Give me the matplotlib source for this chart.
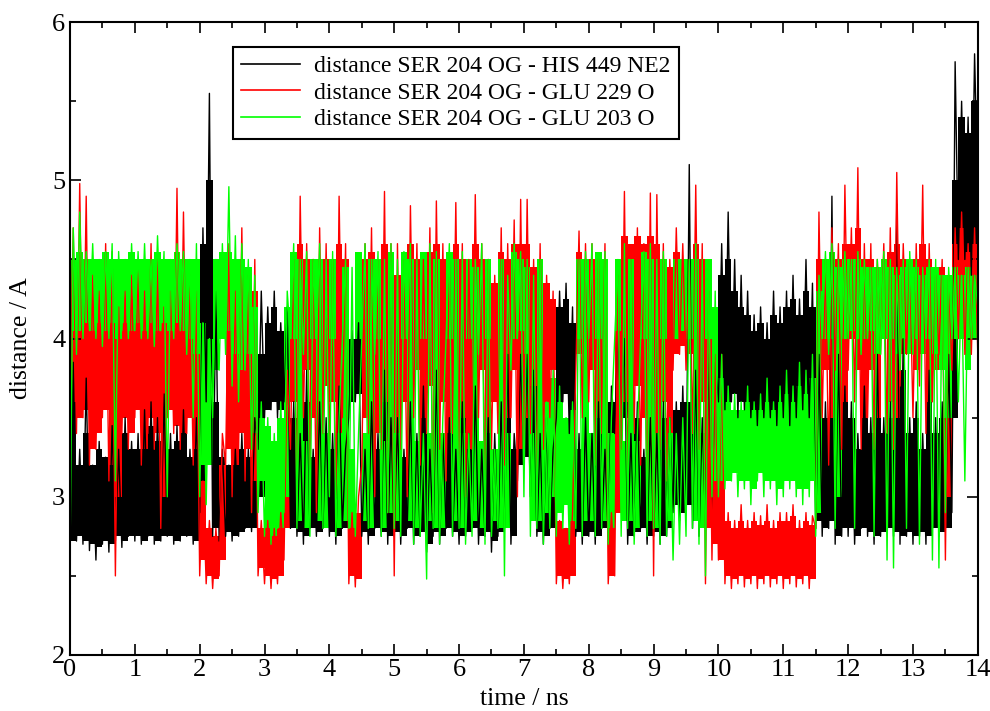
import numpy as np
import matplotlib
matplotlib.use('Agg')
import matplotlib.pyplot as plt
from matplotlib.ticker import MultipleLocator

# values.
# *_core : dense band (low, high) in each 0.1 ns window
# *_ext  : lowest / highest excursion in each 0.1 ns window, one value every 0.05 ns
bin_w = 0.1

his449_core = [
    2.72,3.6, 2.75,3.2, 2.72,3.4, 2.7,3.2, 2.68,3.3, 2.72,3.25, 2.7,3.35, 2.75,3.2, 2.72,3.4, 2.75,3.3,
    2.75,3.3, 2.72,3.4, 2.75,3.45, 2.72,3.35, 2.75,3.5, 2.75,3.3, 2.72,3.35, 2.75,3.4, 2.75,3.25, 2.72,3.35,
    3.0,4.6, 3.8,5.0, 2.8,3.6, 2.75,3.25, 2.78,3.2, 2.75,3.25, 2.78,3.3, 2.8,3.25, 2.8,3.4, 3.0,3.9,
    3.55,4.1, 3.6,4.2, 3.55,4.05, 3.6,4.1, 2.8,3.5, 2.78,3.3, 2.75,3.6, 2.8,3.25, 2.78,3.5, 2.8,3.4,
    2.78,3.3, 2.75,3.55, 2.8,3.25, 3.6,4.0, 3.65,4.0, 2.78,3.25, 2.75,3.5, 2.8,3.3, 2.78,3.6, 2.75,3.4,
    2.78,3.4, 2.75,3.25, 2.8,3.5, 2.75,3.3, 2.78,3.6, 2.7,3.25, 2.78,3.65, 2.75,3.3, 2.8,3.4, 2.78,3.25,
    2.75,3.5, 2.78,3.3, 2.8,3.6, 2.75,3.25, 2.78,3.4, 2.72,3.3, 2.78,3.5, 2.8,3.7, 2.75,3.3, 3.2,3.8,
    3.25,3.8, 3.1,3.7, 2.78,3.3, 2.75,3.4, 2.8,3.25, 3.6,4.2, 3.65,4.25, 3.5,4.1, 2.78,3.3, 2.75,3.4,
    2.78,3.3, 2.75,3.5, 2.8,3.25, 2.78,3.6, 3.45,4.0, 3.5,3.95, 2.75,3.3, 2.78,3.5, 2.8,3.25, 2.75,3.4,
    2.78,3.3, 2.75,3.5, 2.8,3.4, 2.95,3.55, 2.9,3.6, 2.95,3.6, 2.85,3.7, 2.8,3.4, 2.9,3.8, 3.0,3.8,
    3.65,4.4, 3.6,4.5, 3.65,4.3, 3.6,4.2, 3.6,4.15, 3.55,4.05, 3.55,4.1, 3.55,4.0, 3.55,4.15, 3.5,4.1,
    3.55,4.2, 3.5,4.25, 3.55,4.15, 3.6,4.3, 3.55,4.2, 2.85,3.8, 2.8,3.5, 2.85,3.9, 2.75,3.7, 2.8,3.6,
    2.8,3.5, 2.75,3.3, 2.8,3.6, 2.78,3.4, 2.75,3.8, 2.78,3.4, 2.8,3.5, 2.78,3.9, 2.75,3.8, 2.78,3.4,
    2.75,3.5, 2.78,3.3, 2.75,3.7, 2.8,3.4, 2.78,3.5, 2.8,3.7, 3.5,5.0, 4.6,5.4, 4.55,5.3, 4.5,5.5]

his449_ext = [
    2.68,3.85, 2.72,3.3, 2.7,3.75, 2.66,3.2, 2.6,3.35, 2.7,3.25, 2.65,3.45, 2.72,3.3, 2.68,3.5, 2.75,3.35,
    2.72,3.4, 2.7,3.55, 2.75,3.6, 2.7,3.5, 2.72,3.65, 2.75,3.4, 2.7,3.45, 2.72,3.55, 2.75,3.3, 2.7,3.5,
    2.9,4.7, 3.6,5.55, 2.75,4.3, 2.72,3.3, 2.75,3.2, 2.72,3.3, 2.75,3.4, 2.8,3.3, 2.78,3.5, 3.3,4.3,
    3.5,4.2, 3.55,4.3, 3.5,4.1, 3.6,4.2, 2.8,3.6, 2.75,3.4, 2.7,3.8, 2.8,3.3, 2.75,3.6, 2.8,3.5,
    2.75,3.4, 2.7,3.7, 2.8,3.3, 3.5,4.05, 3.6,4.1, 2.75,3.3, 2.7,3.6, 2.8,3.4, 2.75,3.8, 2.7,3.5,
    2.75,3.5, 2.7,3.3, 2.8,3.6, 2.7,3.4, 2.75,3.7, 2.65,3.3, 2.75,3.8, 2.7,3.4, 2.8,3.5, 2.75,3.3,
    2.7,3.6, 2.75,3.4, 2.8,3.7, 2.7,3.3, 2.75,3.5, 2.65,3.4, 2.75,3.6, 2.8,3.9, 2.7,3.4, 3.1,3.9,
    3.2,3.9, 3.0,3.8, 2.75,3.4, 2.7,3.5, 2.8,3.3, 3.5,4.3, 3.6,4.35, 3.4,4.2, 2.75,3.4, 2.7,3.5,
    2.75,3.4, 2.7,3.6, 2.8,3.3, 2.75,3.7, 3.4,4.05, 3.45,4.0, 2.7,3.4, 2.75,3.6, 2.8,3.3, 2.7,3.5,
    2.75,3.4, 2.7,3.6, 2.75,3.5, 2.9,3.6, 2.85,3.7, 2.9,5.1, 2.8,3.8, 2.75,3.5, 2.85,3.9, 2.9,3.85,
    3.6,4.6, 3.55,4.8, 3.6,4.5, 3.5,4.4, 3.55,4.3, 3.5,4.15, 3.45,4.2, 3.5,4.1, 3.5,4.3, 3.45,4.2,
    3.5,4.3, 3.45,4.4, 3.5,4.25, 3.55,4.5, 3.5,4.35, 2.8,3.9, 2.75,3.6, 2.8,4.9, 2.7,3.9, 2.75,3.7,
    2.75,3.6, 2.7,3.4, 2.8,3.7, 2.75,3.5, 2.7,3.9, 2.75,3.5, 2.8,3.6, 2.75,4.85, 2.7,4.0, 2.75,3.5,
    2.7,3.6, 2.75,3.4, 2.7,3.8, 2.8,3.5, 2.75,3.6, 2.8,3.9, 2.9,5.75, 4.5,5.5, 4.5,5.4, 4.4,5.8,
    4.9]

glu229_core = [
    3.6,4.3, 3.5,4.4, 3.55,4.3, 3.3,4.2, 3.4,4.25, 3.55,4.3, 3.2,4.2, 3.0,4.1, 3.5,4.3, 3.4,4.25,
    3.55,4.3, 3.3,4.2, 3.5,4.3, 3.4,4.25, 3.0,4.1, 3.55,4.3, 3.45,4.35, 3.4,4.3, 3.5,4.25, 3.3,4.2,
    2.6,3.1, 2.5,2.8, 2.48,2.75, 2.6,3.2, 3.3,4.4, 3.2,4.2, 3.4,4.5, 3.3,4.3, 3.1,4.3, 2.55,2.8,
    2.5,2.8, 2.48,2.75, 2.5,2.85, 2.8,3.6, 3.6,4.4, 3.4,4.6, 3.8,4.5, 3.5,4.4, 3.3,4.5, 3.7,4.5,
    3.6,4.4, 3.4,4.6, 3.8,4.5, 2.5,2.85, 2.48,2.9, 3.5,4.5, 3.7,4.55, 3.4,4.4, 3.6,4.6, 3.3,4.5,
    2.9,4.4, 3.6,4.4, 3.4,4.6, 3.8,4.5, 3.5,4.4, 3.7,4.55, 3.3,4.6, 3.6,4.5, 3.4,4.4, 3.7,4.6,
    3.5,4.5, 3.3,4.4, 3.6,4.6, 3.8,4.5, 3.4,4.4, 3.6,4.35, 3.7,4.55, 3.5,4.5, 3.8,4.6, 3.3,4.6,
    3.5,4.6, 3.7,4.45, 3.4,4.5, 3.6,4.35, 3.8,4.25, 2.5,2.85, 2.48,2.8, 2.5,2.9, 3.9,4.55, 3.7,4.5,
    3.8,4.5, 3.5,4.45, 3.7,4.5, 2.5,2.9, 2.9,4.3, 3.6,4.65, 3.4,4.6, 3.7,4.65, 3.5,4.6, 3.3,4.65,
    2.9,4.6, 3.6,4.5, 3.4,4.45, 3.9,4.55, 3.95,4.5, 3.9,4.45, 3.7,4.6, 3.6,4.5, 2.8,4.2, 2.7,3.7,
    2.6,3.6, 2.5,2.85, 2.48,2.8, 2.5,2.85, 2.48,2.8, 2.5,2.85, 2.48,2.82, 2.5,2.85, 2.48,2.8, 2.5,2.85,
    2.48,2.85, 2.5,2.88, 2.48,2.8, 2.5,2.85, 2.48,2.82, 3.0,4.5, 3.8,4.45, 3.5,4.55, 4.0,4.5, 3.6,4.6,
    4.0,4.6, 3.8,4.7, 3.5,4.5, 3.8,4.5, 3.5,4.45, 4.0,4.5, 3.6,4.55, 3.5,4.6, 3.9,4.5, 4.0,4.45,
    3.8,4.5, 3.9,4.6, 3.6,4.5, 3.8,4.4, 4.0,4.45, 3.0,4.3, 4.0,4.6, 4.1,4.7, 4.0,4.55, 4.0,4.6]

glu229_ext = [
    3.6,4.7, 3.4,4.98, 3.5,4.9, 3.2,4.4, 3.3,4.3, 3.5,4.6, 3.1,4.55, 2.5,4.2, 3.4,4.3, 3.3,4.4,
    3.5,4.5, 3.2,4.3, 3.4,4.6, 3.3,4.5, 2.8,4.2, 3.5,4.3, 3.4,4.95, 3.3,4.8, 3.4,4.4, 3.2,4.3,
    2.5,3.1, 2.45,2.85, 2.42,2.8, 2.5,3.4, 3.2,4.6, 3.0,4.3, 3.3,4.7, 3.1,4.4, 2.9,4.5, 2.5,2.85,
    2.45,2.85, 2.42,2.8, 2.45,2.9, 2.6,3.8, 3.3,4.5, 3.0,4.9, 3.5,4.6, 3.2,4.5, 2.9,4.7, 3.4,4.6,
    3.3,4.5, 3.0,4.9, 3.5,4.6, 2.45,2.9, 2.43,3.0, 3.2,4.6, 3.4,4.7, 3.0,4.5, 3.3,4.93, 2.9,4.6,
    2.5,4.6, 3.3,4.5, 3.0,4.84, 3.5,4.6, 3.2,4.5, 3.4,4.7, 2.9,4.87, 3.3,4.6, 3.1,4.5, 3.4,4.86,
    3.2,4.6, 3.0,4.5, 3.3,4.91, 3.5,4.6, 3.1,4.5, 3.3,4.4, 3.4,4.7, 3.2,4.6, 3.5,4.75, 3.0,4.88,
    3.2,4.88, 3.4,4.5, 3.1,4.6, 3.3,4.4, 3.5,4.3, 2.45,2.85, 2.42,2.8, 2.45,2.9, 3.8,4.68, 3.5,4.6,
    3.6,4.6, 3.2,4.5, 3.4,4.6, 2.45,2.9, 2.5,4.4, 3.3,4.93, 3.1,4.5, 3.4,4.7, 3.2,4.6, 3.0,4.92,
    2.5,4.91, 3.3,4.6, 3.1,4.5, 3.8,4.7, 3.9,4.6, 3.8,4.5, 3.4,4.97, 3.3,4.6, 2.45,4.3, 2.6,3.9,
    2.6,3.9, 2.45,2.9, 2.42,2.85, 2.45,2.95, 2.43,2.85, 2.45,2.9, 2.42,2.88, 2.45,2.95, 2.43,2.85, 2.45,2.9,
    2.42,2.9, 2.45,2.95, 2.43,2.85, 2.45,2.9, 2.42,2.88, 2.8,4.8, 3.5,4.5, 3.2,4.7, 3.8,4.6, 3.3,4.97,
    3.8,4.7, 3.6,5.08, 3.3,4.6, 3.5,4.6, 3.3,4.5, 3.9,4.6, 3.4,4.7, 3.3,5.05, 3.7,4.6, 3.9,4.5,
    3.5,4.6, 3.7,4.97, 3.4,4.6, 3.6,4.4, 3.9,4.5, 2.6,4.4, 3.8,4.7, 4.0,4.8, 3.9,4.6, 3.9,4.7,
    3.9]

glu203_core = [
    4.05,4.5, 4.05,4.55, 4.1,4.5, 4.05,4.5, 4.1,4.5, 4.05,4.55, 4.1,4.5, 4.0,4.5, 4.1,4.5, 4.05,4.55,
    4.1,4.5, 4.05,4.5, 4.1,4.5, 4.05,4.55, 4.1,4.5, 4.05,4.5, 4.1,4.55, 4.05,4.5, 4.0,4.5, 3.9,4.5,
    3.2,4.1, 3.2,4.0, 3.8,4.5, 4.0,4.55, 4.05,4.55, 3.9,4.5, 3.8,4.5, 3.9,4.45, 3.4,4.2, 3.1,3.5,
    2.8,3.45, 2.75,3.35, 2.8,3.5, 3.0,4.2, 4.0,4.55, 2.85,4.5, 2.8,3.35, 4.0,4.5, 2.85,4.5, 2.8,3.4,
    4.0,4.5, 2.8,3.4, 2.85,4.45, 2.8,3.3, 4.0,4.55, 2.85,3.4, 2.8,4.5, 4.0,4.5, 2.8,3.35, 2.9,4.55,
    2.85,3.4, 4.0,4.55, 2.85,4.5, 2.8,3.35, 4.0,4.55, 2.85,3.4, 2.8,4.5, 2.8,3.4, 4.0,4.55, 2.85,4.5,
    2.8,3.4, 4.0,4.5, 2.85,4.45, 2.8,3.35, 4.0,4.5, 2.85,3.3, 2.8,4.5, 2.8,3.4, 4.0,4.55, 4.05,4.5,
    3.9,4.45, 2.85,3.4, 2.85,4.5, 2.9,3.6, 3.0,3.75, 2.9,3.6, 2.95,3.5, 2.85,3.55, 4.0,4.5, 2.85,4.5,
    2.85,3.4, 4.0,4.55, 2.85,4.5, 2.8,3.4, 4.05,4.5, 2.85,3.35, 2.85,4.5, 2.8,3.35, 4.0,4.55, 2.85,4.5,
    2.8,3.4, 4.0,4.5, 2.85,3.4, 4.0,4.5, 4.05,4.5, 4.0,4.5, 2.85,4.5, 2.8,3.4, 4.0,4.5, 3.1,4.2,
    3.1,3.75, 3.1,3.6, 3.15,3.55, 3.1,3.55, 3.1,3.6, 3.05,3.55, 3.15,3.55, 3.1,3.6, 3.1,3.55, 3.05,3.6,
    3.1,3.65, 3.1,3.6, 3.05,3.7, 3.05,3.65, 3.1,3.75, 2.9,4.3, 4.0,4.5, 4.0,4.55, 3.0,4.45, 4.0,4.5,
    4.05,4.5, 4.0,4.5, 4.0,4.45, 4.05,4.45, 3.9,4.45, 4.0,4.5, 4.0,4.45, 3.9,4.4, 4.0,4.45, 3.9,4.5,
    4.0,4.45, 3.9,4.4, 4.0,4.45, 3.9,4.45, 3.8,4.4, 3.5,4.4, 4.0,4.45, 4.0,4.4, 3.8,4.45, 4.0,4.4]

glu203_ext = [
    2.6,4.7, 3.9,4.8, 4.0,4.55, 4.05,4.6, 4.0,4.5, 3.95,4.55, 4.0,4.6, 3.1,4.55, 4.05,4.5, 4.0,4.6,
    4.05,4.55, 4.0,4.6, 4.0,4.5, 3.95,4.65, 4.05,4.55, 3.0,4.5, 4.0,4.6, 4.05,4.55, 3.9,4.5, 3.5,4.6,
    3.0,4.1, 2.95,4.0, 3.5,4.5, 3.8,4.6, 3.9,4.96, 3.7,4.65, 3.6,4.6, 3.8,4.5, 3.3,4.4, 2.9,3.6,
    2.75,3.5, 2.7,3.4, 2.8,3.6, 2.9,4.3, 4.0,4.6, 2.8,4.5, 3.9,4.55, 2.75,4.5, 4.0,4.6, 2.8,4.5,
    3.0,4.55, 2.75,3.5, 4.0,4.5, 2.8,4.45, 2.75,3.4, 4.0,4.6, 2.8,4.5, 3.9,4.55, 2.75,4.5, 2.9,4.6,
    2.8,4.5, 2.75,4.55, 4.0,4.6, 2.7,4.5, 2.75,3.4, 2.48,4.6, 2.8,4.55, 2.7,3.5, 4.0,4.6, 2.75,4.5,
    2.8,4.55, 2.7,3.4, 2.75,4.5, 3.9,4.6, 2.7,4.5, 2.75,3.3, 2.8,4.5, 2.5,4.4, 3.8,4.6, 4.0,4.55,
    3.0,4.5, 2.75,4.4, 2.8,4.5, 2.7,3.6, 2.8,3.8, 2.75,3.7, 2.8,3.5, 2.7,3.6, 2.8,4.5, 2.75,4.55,
    4.0,4.6, 2.75,4.5, 2.8,4.55, 2.7,3.5, 4.0,4.5, 2.75,4.6, 2.8,4.5, 2.7,3.4, 4.0,4.55, 2.75,4.6,
    2.8,4.5, 2.7,4.55, 2.75,3.5, 2.6,3.4, 2.7,3.5, 2.75,4.5, 2.8,4.6, 2.7,4.5, 2.5,4.4, 3.0,4.3,
    3.0,3.9, 3.05,3.7, 3.1,3.65, 3.0,3.6, 3.05,3.7, 2.95,3.6, 3.1,3.65, 3.0,3.75, 3.05,3.6, 2.95,3.7,
    3.0,3.8, 3.05,3.7, 3.0,3.85, 2.95,3.8, 3.0,3.9, 2.75,4.4, 4.0,4.55, 3.9,4.6, 2.8,4.5, 4.0,4.55,
    4.0,4.5, 2.8,4.55, 3.9,4.5, 4.0,4.45, 2.75,4.5, 3.9,4.55, 2.6,4.5, 2.55,4.45, 3.8,4.5, 2.8,4.55,
    3.9,4.5, 2.7,4.45, 4.0,4.5, 2.6,4.5, 2.55,4.4, 2.9,4.45, 4.0,4.45, 3.6,4.4, 3.1,4.45, 4.0,4.4,
    4.2]

labels = ['distance SER 204 OG - HIS 449 NE2',
          'distance SER 204 OG - GLU 229 O',
          'distance SER 204 OG - GLU 203 O']
colors = ['#000000', '#ff0000', '#00ff00']

plt.rcParams['font.family'] = 'Liberation Serif'

fig = plt.figure(figsize=(9.9, 7.11), dpi=100)
ax = fig.add_axes([0.0707, 0.0788, 0.917, 0.890])

series = [(his449_core, his449_ext), (glu229_core, glu229_ext), (glu203_core, glu203_ext)]
for (core, ext), lab, col in zip(series, labels, colors):
    lo = np.array(core[0::2])
    hi = np.array(core[1::2])
    edges = np.arange(len(lo) + 1) * bin_w
    ax.fill_between(edges, np.append(lo, lo[-1]), np.append(hi, hi[-1]),
                    step='post', color=col, lw=0)
    t = np.arange(len(ext)) * bin_w / 2
    ax.plot(t, ext, color=col, lw=1.0, label=lab)

ax.set_xlim(0, 14)
ax.set_ylim(2, 6)
ax.xaxis.set_major_locator(MultipleLocator(1))
ax.xaxis.set_minor_locator(MultipleLocator(0.5))
ax.yaxis.set_major_locator(MultipleLocator(1))
ax.yaxis.set_minor_locator(MultipleLocator(0.5))
ax.tick_params(which='both', direction='in', top=True, right=True, labelsize=19, width=1.2)
ax.tick_params(which='major', length=8)
ax.tick_params(which='minor', length=4)
ax.tick_params(axis='x', pad=3)
for s in ax.spines.values():
    s.set_linewidth(1.5)
    s.set_zorder(5)

ax.set_xlabel('time / ns', fontsize=18.5, labelpad=5)
ax.set_ylabel('distance / A', fontsize=18.5, labelpad=14)

leg = ax.legend(loc='upper left', bbox_to_anchor=(0.1795, 0.9605), borderaxespad=0,
                fontsize=17, fancybox=False, framealpha=1, edgecolor='black',
                handlelength=2.5, labelspacing=0.22, borderpad=0.35, handletextpad=0.6)
leg.get_frame().set_linewidth(1.5)
leg.set_zorder(6)
for h in leg.get_lines():
    h.set_linewidth(1.2)

plt.savefig('out.png', dpi=100)
